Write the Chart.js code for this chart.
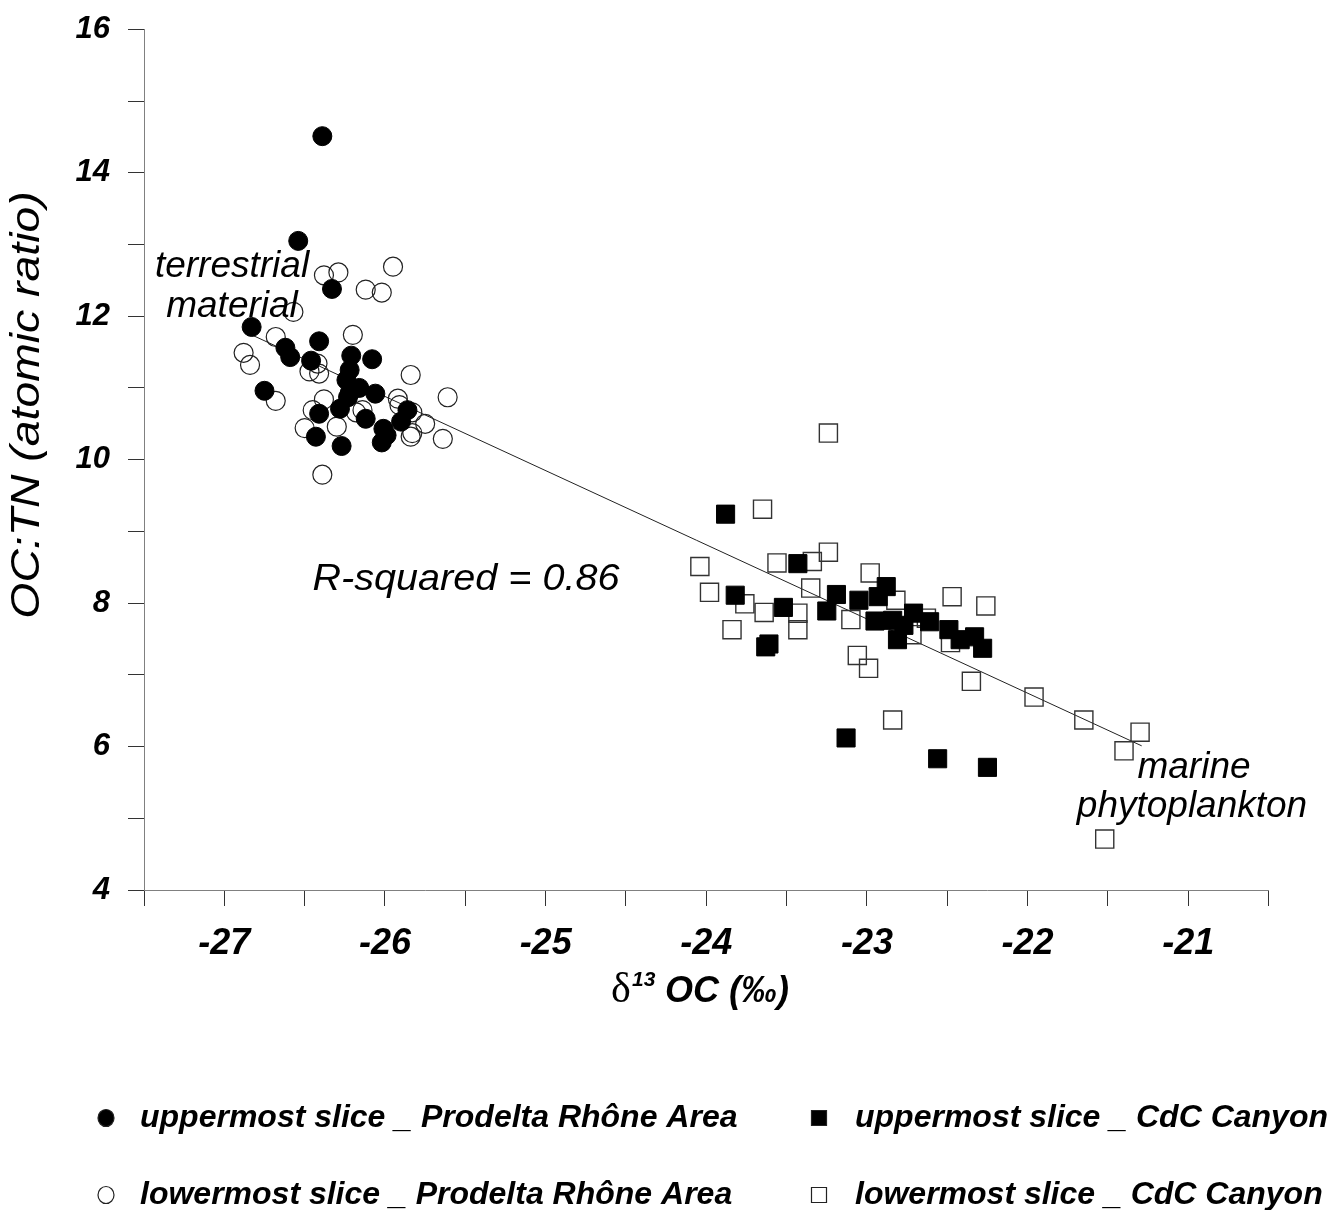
<!DOCTYPE html>
<html><head><meta charset="utf-8">
<script src="https://cdn.jsdelivr.net/npm/chart.js@4.4.1/dist/chart.umd.min.js"></script>
<style>html,body{margin:0;padding:0;background:#fff;}canvas{display:block;}</style>
</head><body>
<canvas id="c" width="1340" height="1210"></canvas>
<script>
// ---- data ----
const seriesNames = [
  'uppermost slice _ Prodelta Rhône Area',
  'lowermost slice _ Prodelta Rhône Area',
  'uppermost slice _ CdC Canyon',
  'lowermost slice _ CdC Canyon'
];
const upperProdeltaX = [-26.39,-26.54,-26.33,-26.83,-26.41,-26.62,-26.59,-26.46,-26.21,-26.08,-26.22,-26.24,-26.16,-26.22,-26.06,-26.23,-26.28,-26.12,-26.41,-26.43,-26.27,-26.01,-25.99,-26.02,-25.90,-25.86,-26.75];
const upperProdeltaY = [14.51,13.05,12.38,11.85,11.65,11.56,11.43,11.38,11.45,11.40,11.25,11.11,11.00,10.93,10.92,10.87,10.71,10.57,10.64,10.32,10.19,10.43,10.34,10.24,10.53,10.69,10.96];
const lowerProdeltaX = [-25.95,-26.38,-26.29,-26.12,-26.02,-26.57,-26.20,-26.68,-26.88,-26.84,-26.47,-26.41,-26.42,-25.84,-25.61,-26.68,-26.38,-26.45,-25.92,-25.91,-26.18,-25.83,-25.75,-26.50,-26.30,-25.84,-25.83,-25.64,-26.39,-26.14];
const lowerProdeltaY = [12.69,12.57,12.61,12.37,12.33,12.06,11.74,11.71,11.49,11.32,11.23,11.20,11.34,11.18,10.87,10.82,10.84,10.69,10.85,10.76,10.66,10.66,10.50,10.44,10.46,10.32,10.37,10.29,9.79,10.69];
const upperCdCX = [-23.88,-23.43,-23.82,-23.52,-23.19,-23.05,-23.25,-22.88,-22.93,-22.95,-22.84,-22.81,-22.71,-22.77,-22.61,-22.49,-22.42,-22.33,-22.28,-23.63,-23.61,-23.13,-22.56,-22.25];
const upperCdCY = [9.24,8.55,8.11,7.94,8.12,8.04,7.89,8.23,8.09,7.75,7.76,7.49,7.86,7.69,7.74,7.63,7.49,7.53,7.37,7.39,7.43,6.12,5.83,5.71];
const lowerCdCX = [-23.24,-23.65,-23.24,-23.56,-23.34,-24.04,-22.98,-23.98,-23.35,-23.76,-23.64,-23.43,-22.82,-23.10,-22.47,-22.26,-23.84,-23.43,-22.63,-22.72,-22.48,-23.06,-22.99,-22.35,-22.84,-21.96,-21.65,-21.30,-21.40,-21.52];
const lowerCdCY = [10.37,9.31,8.71,8.56,8.58,8.51,8.42,8.15,8.21,7.99,7.87,7.86,8.04,7.77,8.09,7.96,7.63,7.63,7.79,7.56,7.45,7.27,7.09,6.91,6.37,6.69,6.37,6.20,5.94,4.71];
const fitX = [-26.83, -21.29];
const fitY = [11.74, 6.01];
const xMajorTicks = [-27,-26,-25,-24,-23,-22,-21];
const yMajorTicks = [4,6,8,10,12,14,16];
const rSquaredText = 'R-squared = 0.86';

// ---- chart ----
const FONT = '"Liberation Sans", Arial, sans-serif';
const pts = (xs, ys) => xs.map((x, i) => ({x: x, y: ys[i]}));

function stretchedText(ctx, text, x, y, sx) {
  ctx.save();
  ctx.translate(x, y);
  ctx.scale(sx, 1);
  ctx.fillText(text, 0, 0);
  ctx.restore();
}

const annotationPlugin = {
  id: 'annotations',
  afterDraw(chart) {
    const ctx = chart.ctx;
    ctx.save();
    ctx.fillStyle = '#000';
    // in-plot labels
    ctx.font = 'italic 37px ' + FONT;
    ctx.textAlign = 'center';
    ctx.textBaseline = 'alphabetic';
    ctx.fillText('terrestrial', 232, 277);
    ctx.fillText('material', 232, 317);
    ctx.fillText('marine', 1194, 778);
    ctx.fillText('phytoplankton', 1192, 817);
    ctx.font = 'italic 36px ' + FONT;
    stretchedText(ctx, rSquaredText, 466, 590, 1.1);

    // y axis title
    ctx.save();
    ctx.translate(28, 405);
    ctx.rotate(-Math.PI / 2);
    ctx.scale(1.13, 1);
    ctx.font = 'italic 41px ' + FONT;
    ctx.textAlign = 'center';
    ctx.textBaseline = 'middle';
    ctx.fillText('OC:TN (atomic ratio)', 0, 0);
    ctx.restore();

    // x axis title
    ctx.textAlign = 'left';
    ctx.font = '42px "Liberation Serif", "Times New Roman", serif';
    ctx.fillText('δ', 611, 1002);
    ctx.font = 'italic bold 21px ' + FONT;
    ctx.fillText('13', 632, 986);
    ctx.font = 'italic bold 36px ' + FONT;
    ctx.fillText('OC (‰)', 665, 1002);

    // legend
    const rows = [1118, 1195];
    const cols = [106, 819];
    const textX = [140, 855];
    ctx.font = 'italic bold 32px ' + FONT;
    ctx.textBaseline = 'alphabetic';
    const items = [
      {col:0,row:0,shape:'circle',fill:true,label:seriesNames[0]},
      {col:0,row:1,shape:'circle',fill:false,label:seriesNames[1]},
      {col:1,row:0,shape:'rect',fill:true,label:seriesNames[2]},
      {col:1,row:1,shape:'rect',fill:false,label:seriesNames[3]}
    ];
    items.forEach(it => {
      const cx = cols[it.col], cy = rows[it.row];
      ctx.beginPath();
      if (it.shape === 'circle') ctx.ellipse(cx, cy, 8, 8.5, 0, 0, Math.PI * 2);
      else ctx.rect(cx - 7.5, cy - 7.5, 15, 15);
      if (it.fill) { ctx.fillStyle = '#000'; ctx.fill(); }
      ctx.lineWidth = 1.2; ctx.strokeStyle = '#222'; ctx.stroke();
      ctx.fillStyle = '#000';
      ctx.fillText(it.label, textX[it.col], cy + 9);
    });
    ctx.restore();
  }
};

new Chart(document.getElementById('c'), {
  type: 'scatter',
  data: {
    datasets: [
      {label: seriesNames[0], data: pts(upperProdeltaX, upperProdeltaY), pointStyle: 'circle', pointRadius: 9.5,
       backgroundColor: '#000', borderColor: '#000', borderWidth: 1, order: 0},
      {label: seriesNames[2], data: pts(upperCdCX, upperCdCY), pointStyle: 'rect', pointRadius: 12.8,
       backgroundColor: '#000', borderColor: '#000', borderWidth: 1, order: 0},
      {label: seriesNames[1], data: pts(lowerProdeltaX, lowerProdeltaY), pointStyle: 'circle', pointRadius: 9.5,
       backgroundColor: 'rgba(0,0,0,0)', borderColor: '#222', borderWidth: 1.2, order: 1},
      {label: seriesNames[3], data: pts(lowerCdCX, lowerCdCY), pointStyle: 'rect', pointRadius: 12.8,
       backgroundColor: 'rgba(0,0,0,0)', borderColor: '#333', borderWidth: 1.4, order: 1},
      {label: 'fit', type: 'line', data: pts(fitX, fitY), showLine: true, pointRadius: 0,
       borderColor: '#222', borderWidth: 1, fill: false, order: 2}
    ]
  },
  options: {
    responsive: false,
    animation: false,
    events: [],
    layout: {padding: {top: 29.3, right: 71.4, left: 0, bottom: 0}},
    plugins: {legend: {display: false}, tooltip: {enabled: false}, title: {display: false}},
    scales: {
      x: {
        type: 'linear', min: -27.5, max: -20.5,
        ticks: {stepSize: 0.5, autoSkip: false, maxRotation: 0, minRotation: 0, padding: 16, color: '#000',
          callback: v => xMajorTicks.includes(v) ? String(v) : '',
          font: {family: FONT, size: 36, weight: 'bold', style: 'italic'}},
        grid: {drawOnChartArea: false, drawTicks: true, tickLength: 16, color: '#333', lineWidth: 1},
        border: {display: true, color: '#808080', width: 1},
        afterFit: s => { s.height = 320; s.paddingLeft = 0; s.paddingRight = 0; }
      },
      y: {
        type: 'linear', min: 4, max: 16,
        ticks: {stepSize: 1, autoSkip: false, padding: 18, color: '#000',
          callback: v => yMajorTicks.includes(v) ? String(v) : '',
          font: {family: FONT, size: 31, weight: 'bold', style: 'italic'}},
        grid: {drawOnChartArea: false, drawTicks: true, tickLength: 16, color: '#333', lineWidth: 1},
        border: {display: true, color: '#808080', width: 1},
        afterFit: s => { s.width = 144; s.paddingTop = 0; s.paddingBottom = 0; }
      }
    }
  },
  plugins: [annotationPlugin]
});
</script>
</body></html>
